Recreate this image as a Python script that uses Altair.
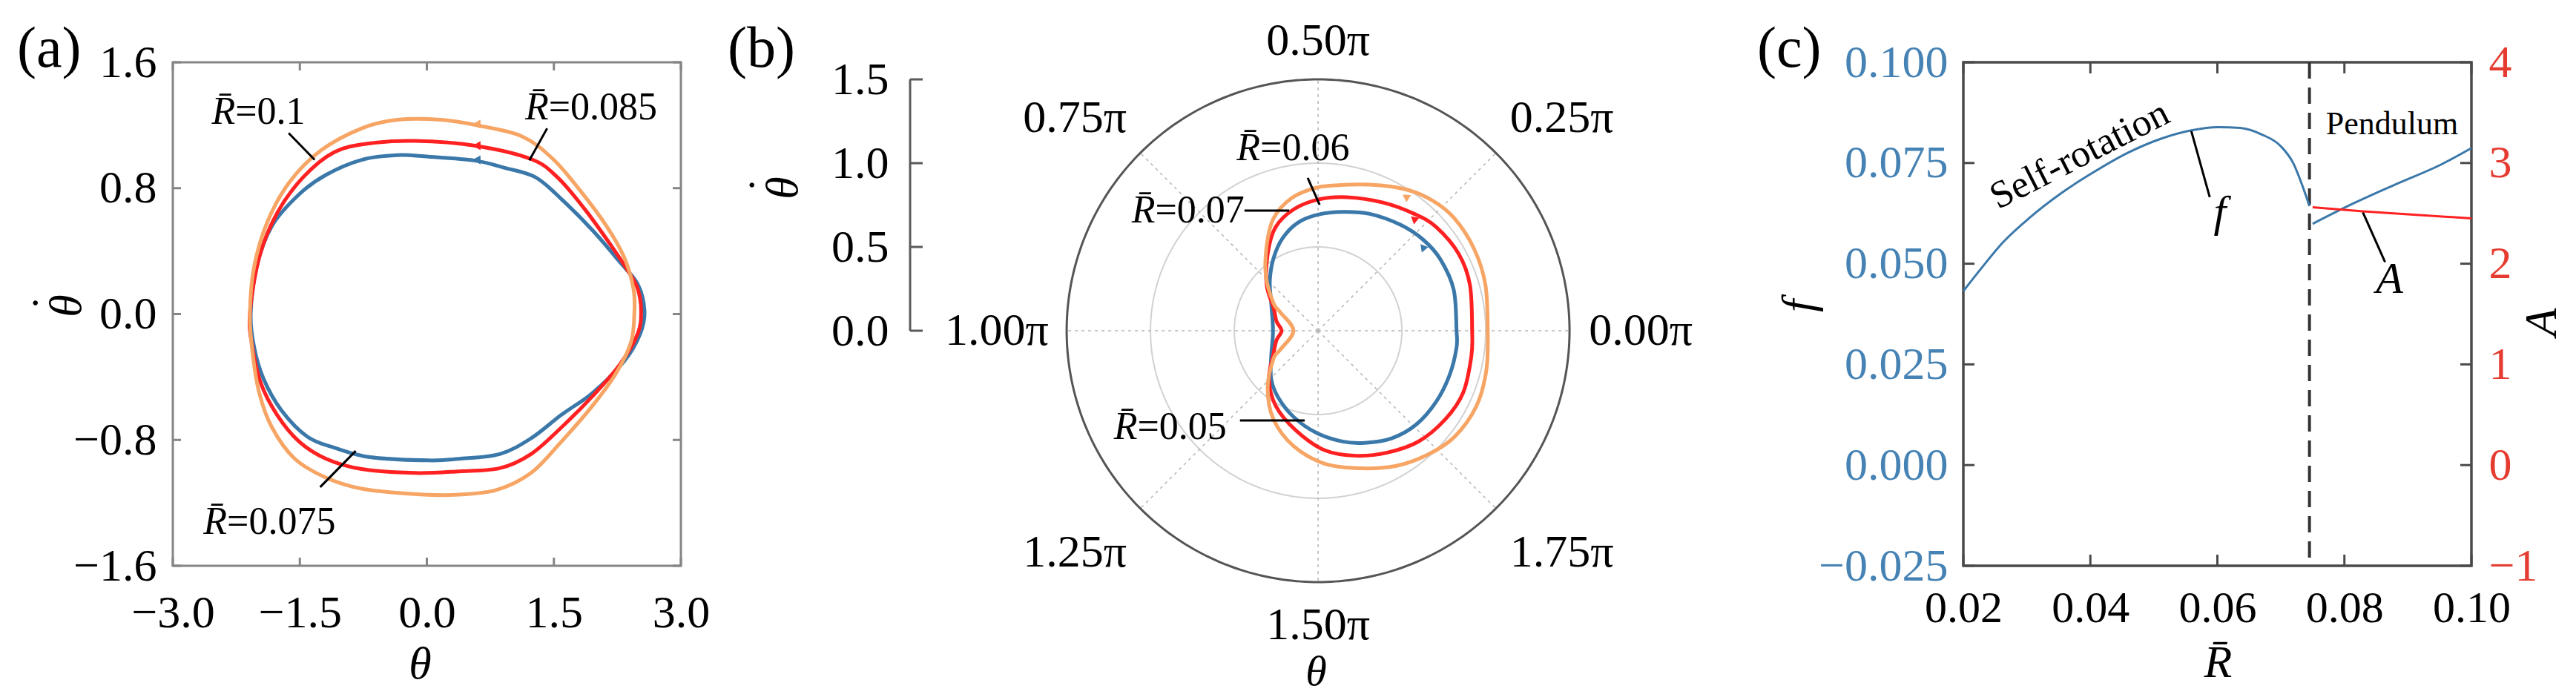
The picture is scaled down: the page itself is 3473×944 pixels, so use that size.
import altair as alt
import numpy as np
import pandas as pd

FONT = "Liberation Serif, Times New Roman, DejaVu Serif, serif"
BLUE = "#3b78aa"
RED = "#ff2121"
ORANGE = "#f7a564"
LBLUE = "#4683b4"
LRED = "#e53b30"
THETADOT = ["\u02d9", "θ"]  # dot drawn above the theta (title is rotated)

# ---------------- panel (a): phase portraits (theta, theta-dot)
a_series = ["0.075", "0.085", "0.1"]
a_blue_th = [-2.08, -2.01, -1.83, -1.51, -1.19, -0.77, -0.35, 0.02, 0.57, 0.91, 1.28, 1.59, 1.96, 2.28, 2.49,
             2.57, 2.52, 2.33, 1.96, 1.59, 1.23, 0.86, 0.38, 0.02, -0.67, -1.09, -1.41, -1.72, -1.93, -2.04]
a_blue_thd = [0.0, 0.30, 0.56, 0.76, 0.885, 0.98, 1.01, 1.0, 0.975, 0.93, 0.87, 0.73, 0.53, 0.33, 0.19,
              0.02, -0.125, -0.30, -0.50, -0.64, -0.79, -0.89, -0.92, -0.93, -0.91, -0.85, -0.78, -0.61, -0.41, -0.21]
a_red_th = [-2.09, -1.98, -1.77, -1.46, -1.09, -0.67, -0.14, 0.57, 1.23, 1.54, 1.86, 2.17, 2.38, 2.49, 2.53,
            2.49, 2.28, 1.96, 1.59, 1.23, 0.86, 0.38, -0.14, -0.77, -1.19, -1.51, -1.77, -1.96, -2.06]
a_red_thd = [0.0, 0.36, 0.64, 0.87, 1.03, 1.085, 1.10, 1.07, 0.985, 0.87, 0.67, 0.44, 0.27, 0.16, 0.02,
             -0.125, -0.32, -0.52, -0.72, -0.89, -0.98, -1.0, -1.01, -0.985, -0.92, -0.81, -0.64, -0.44, -0.21]
a_orange_th = [-2.09, -2.04, -1.88, -1.62, -1.25, -0.77, -0.35, 0.17, 0.59, 1.12, 1.49, 1.81, 2.12, 2.33, 2.44,
               2.45, 2.41, 2.23, 1.96, 1.59, 1.23, 0.81, 0.28, -0.25, -0.77, -1.19, -1.56, -1.83, -1.98, -2.06]
a_orange_thd = [0.0, 0.30, 0.59, 0.84, 1.04, 1.18, 1.235, 1.235, 1.20, 1.13, 0.985, 0.785, 0.56, 0.36, 0.16,
                0.0, -0.18, -0.38, -0.58, -0.81, -1.01, -1.12, -1.15, -1.14, -1.11, -1.04, -0.92, -0.72, -0.50, -0.24]
a_arrow_th = [0.587, 0.587, 0.587]
a_arrow_thd = [0.98, 1.07, 1.207]
a_lab_text = ["=0.075", "=0.085", "=0.1"]
a_lab_th = [-2.36, 1.439, -2.263]
a_lab_thd = [-1.321, 1.314, 1.285]
a_lead_th1 = [-1.26, 1.42, -1.632]
a_lead_thd1 = [-1.10, 1.18, 1.150]
a_lead_th2 = [-0.84, 1.21, -1.325]
a_lead_thd2 = [-0.87, 0.977, 0.980]
a_xticks = [-3.0, -1.5, 0.0, 1.5, 3.0]
a_yticks = [-1.6, -0.8, 0.0, 0.8, 1.6]

# ---------------- panel (b): polar portraits (angle in units of pi, radius = theta-dot)
b_series = ["0.05", "0.06", "0.07"]
b_blue_ang = [0, 0.093, 0.167, 0.226, 0.289, 0.368, 0.435, 0.5, 0.559, 0.617, 0.676, 0.744, 0.830, 1.0,
              1.161, 1.254, 1.326, 1.412, 1.493, 1.569, 1.626, 1.691, 1.757, 1.829, 1.898, 1.961]
b_blue_r = [0.826, 0.845, 0.845, 0.830, 0.801, 0.762, 0.724, 0.693, 0.656, 0.591, 0.507, 0.415, 0.325, 0.269,
            0.320, 0.401, 0.462, 0.535, 0.608, 0.677, 0.725, 0.778, 0.810, 0.822, 0.828, 0.832]
b_red_ang = [0, 0.093, 0.159, 0.229, 0.281, 0.351, 0.432, 0.5, 0.563, 0.624, 0.685, 0.769, 0.847, 0.928, 1.0,
             1.072, 1.155, 1.247, 1.336, 1.430, 1.518, 1.594, 1.664, 1.734, 1.807, 1.872, 1.947]
b_red_r = [0.919, 0.946, 0.956, 0.938, 0.903, 0.857, 0.815, 0.783, 0.739, 0.668, 0.548, 0.410, 0.300, 0.255, 0.218,
           0.255, 0.302, 0.411, 0.514, 0.609, 0.715, 0.780, 0.836, 0.892, 0.925, 0.941, 0.927]
b_orange_ang = [0, 0.085, 0.153, 0.220, 0.272, 0.324, 0.392, 0.456, 0.505, 0.563, 0.620, 0.672, 0.743, 0.823, 0.854,
                1.0, 1.149, 1.179, 1.270, 1.351, 1.433, 1.516, 1.595, 1.667, 1.730, 1.789, 1.859, 1.927]
b_orange_r = [1.012, 1.035, 1.051, 1.054, 1.033, 0.992, 0.924, 0.877, 0.853, 0.807, 0.722, 0.596, 0.450, 0.314, 0.253,
              0.147, 0.254, 0.315, 0.455, 0.591, 0.703, 0.795, 0.859, 0.932, 0.987, 1.031, 1.046, 1.031]
b_arrow_ang = [0.215, 0.275, 0.316]
b_arrow_r = [0.800, 0.879, 0.956]
b_arrow_rot = [231, 220, 213]
b_lab_text = ["=0.05", "=0.06", "=0.07"]
b_lab_x = [-1.078, -0.345, -0.972]
b_lab_y = [-0.575, 1.089, 0.717]
b_lead_x1 = [-0.466, -0.062, -0.439]
b_lead_y1 = [-0.535, 0.912, 0.717]
b_lead_x2 = [-0.080, 0.009, -0.172]
b_lead_y2 = [-0.535, 0.752, 0.717]
b_grid_r = [0.5, 1.0]
b_outer_r = 1.5
b_spoke_ang = [0, 0.25, 0.5, 0.75, 1.0, 1.25, 1.5, 1.75]
b_ang_labels = ["0.00π", "0.25π", "0.50π", "0.75π", "1.00π", "1.25π", "1.50π", "1.75π"]
b_ang_lab_x = [1.925, 1.454, 0.0, -1.451, -1.917, -1.451, 0.0, 1.454]
b_ang_lab_y = [0.0, 1.269, 1.730, 1.269, 0.0, -1.321, -1.755, -1.321]
b_rticks = [0.0, 0.5, 1.0, 1.5]

# ---------------- panel (c): f and A versus R
c_rot_R = [0.02, 0.0228, 0.0263, 0.0305, 0.0355, 0.0404, 0.046, 0.0509, 0.0559, 0.0601, 0.0636, 0.0671,
           0.0699, 0.072, 0.0734, 0.0745]
c_rot_f = [0.0432, 0.0488, 0.0554, 0.0615, 0.0676, 0.0726, 0.0776, 0.0809, 0.0831, 0.0839, 0.0837, 0.082,
           0.0793, 0.0748, 0.0693, 0.0643]
c_pen_R = [0.0750, 0.0812, 0.0882, 0.0952, 0.1000]
c_pen_f = [0.0599, 0.0648, 0.0698, 0.0746, 0.0787]
c_A_R = [0.0750, 0.0829, 0.0900, 0.1000]
c_A = [2.56, 2.52, 2.49, 2.45]
c_transition = 0.0745
c_xticks = [0.02, 0.04, 0.06, 0.08, 0.10]
c_fticks = [-0.025, 0.0, 0.025, 0.05, 0.075, 0.1]
c_Aticks = [-1, 0, 1, 2, 3, 4]

# ======================= build panel (a)
WA, HA, TA = 685, 679, 11
GA = "#858585"
sxa = alt.Scale(domain=[-3, 3], nice=False, zero=False)
sya = alt.Scale(domain=[-1.6, 1.6], nice=False, zero=False)
col_a = alt.Scale(domain=a_series, range=[BLUE, RED, ORANGE])
XA = alt.X("x:Q", scale=sxa, axis=alt.Axis(values=a_xticks, format=".1f", title="θ", labelPadding=33,
                                           titleX=333, titleY=132, titleAlign="center", titleBaseline="middle"))
YA = alt.Y("y:Q", scale=sya, axis=alt.Axis(values=a_yticks, format=".1f", title=THETADOT, labelPadding=22,
                                           titleX=-168, titleY=328, titleAngle=270, titleAlign="center",
                                           titleBaseline="middle", titleLineHeight=24))

df_a = pd.concat([
    pd.DataFrame({"x": a_blue_th, "y": a_blue_thd, "s": "0.075", "o": range(len(a_blue_th))}),
    pd.DataFrame({"x": a_red_th, "y": a_red_thd, "s": "0.085", "o": range(len(a_red_th))}),
    pd.DataFrame({"x": a_orange_th, "y": a_orange_thd, "s": "0.1", "o": range(len(a_orange_th))}),
])
a_lines = alt.Chart(df_a).mark_line(interpolate="cardinal-closed").encode(
    x=XA, y=YA,
    color=alt.Color("s:N", scale=col_a, legend=None),
    strokeWidth=alt.StrokeWidth("s:N", scale=alt.Scale(domain=a_series, range=[5, 5, 3.5]), legend=None),
    order=alt.Order("o:Q"),
)
a_arrows = alt.Chart(pd.DataFrame({"x": a_arrow_th, "y": a_arrow_thd, "s": a_series})).mark_point(
    shape="triangle-left", filled=True, size=150, opacity=1).encode(
    x=XA, y=YA, color=alt.Color("s:N", scale=col_a, legend=None))
df_alead = pd.DataFrame({"x": a_lead_th1, "y": a_lead_thd1, "x2": a_lead_th2, "y2": a_lead_thd2})
a_leads = alt.Chart(df_alead).mark_rule(color="black", strokeWidth=3).encode(x=XA, y=YA, x2="x2:Q", y2="y2:Q")
df_alab = pd.DataFrame({"x": a_lab_th, "y": a_lab_thd, "t": a_lab_text})
a_labR = alt.Chart(df_alab).mark_text(text="R\u0304", font=FONT, fontSize=52, fontStyle="italic",
                                      align="right", baseline="middle").encode(x=XA, y=YA)
a_labE = alt.Chart(df_alab).mark_text(font=FONT, fontSize=52, align="left", baseline="middle").encode(
    x=XA, y=YA, text="t:N")
df_ax = pd.DataFrame({"x": a_xticks})
df_ay = pd.DataFrame({"y": a_yticks})
a_tb = alt.Chart(df_ax).mark_rule(color=GA, strokeWidth=3).encode(x=XA, y=alt.value(HA), y2=alt.value(HA - TA))
a_tt = alt.Chart(df_ax).mark_rule(color=GA, strokeWidth=3).encode(x=XA, y=alt.value(0), y2=alt.value(TA))
a_tl = alt.Chart(df_ay).mark_rule(color=GA, strokeWidth=3).encode(y=YA, x=alt.value(0), x2=alt.value(TA))
a_tr = alt.Chart(df_ay).mark_rule(color=GA, strokeWidth=3).encode(y=YA, x=alt.value(WA), x2=alt.value(WA - TA))
a_letter = alt.Chart(pd.DataFrame({"t": ["(a)"]})).mark_text(
    font=FONT, fontSize=78, align="left", baseline="alphabetic").encode(
    text="t:N", x=alt.value(-210), y=alt.value(6))

pa = alt.layer(a_lines, a_arrows, a_leads, a_labR, a_labE, a_tb, a_tt, a_tl, a_tr, a_letter).properties(
    width=WA, height=HA, view=alt.ViewBackground(stroke=GA, strokeWidth=3))

# ======================= build panel (b)
WB, HB = 725, 724
sxb = alt.Scale(domain=[-1.580, 1.628], nice=False, zero=False)
syb = alt.Scale(domain=[-1.602, 1.602], nice=False, zero=False)
col_b = alt.Scale(domain=b_series, range=[BLUE, RED, ORANGE])
XB = alt.X("x:Q", scale=sxb, axis=alt.Axis(labels=False, title="θ", titleX=354, titleY=98, titleFontSize=58,
                                           titleAlign="center", titleBaseline="middle"))
YB = alt.Y("y:Q", scale=syb, axis=alt.Axis(values=b_rticks, format=".1f", offset=193, labelPadding=29,
                                           title=THETADOT, titleX=-196, titleY=169, titleAngle=270,
                                           titleAlign="center", titleBaseline="middle", titleLineHeight=24))


def polar_df(ang, r, name):
    a = np.array(ang) * np.pi
    rr = np.array(r)
    return pd.DataFrame({"x": rr * np.cos(a), "y": rr * np.sin(a), "s": name, "o": range(len(ang))})


phi = np.linspace(0, 2 * np.pi, 361)
df_grid = pd.concat([pd.DataFrame({"x": r * np.cos(phi), "y": r * np.sin(phi), "g": str(r), "o": range(len(phi))})
                     for r in b_grid_r])
df_outer = pd.DataFrame({"x": b_outer_r * np.cos(phi), "y": b_outer_r * np.sin(phi), "o": range(len(phi))})
b_gridc = alt.Chart(df_grid).mark_line(color="#d2d2d2", strokeWidth=2).encode(
    x=XB, y=YB, detail="g:N", order="o:Q")
b_outc = alt.Chart(df_outer).mark_line(color="#555555", strokeWidth=3).encode(x=XB, y=YB, order="o:Q")
sa = np.array(b_spoke_ang) * np.pi
df_spk = pd.DataFrame({"x": 0.0, "y": 0.0, "x2": b_outer_r * np.cos(sa), "y2": b_outer_r * np.sin(sa)})
b_spokes = alt.Chart(df_spk).mark_rule(color="#b5b5b5", strokeWidth=1.5, strokeDash=[4, 5]).encode(
    x=XB, y=YB, x2="x2:Q", y2="y2:Q")

df_b = pd.concat([polar_df(b_blue_ang, b_blue_r, "0.05"), polar_df(b_red_ang, b_red_r, "0.06"),
                  polar_df(b_orange_ang, b_orange_r, "0.07")])
b_lines = alt.Chart(df_b).mark_line(interpolate="cardinal-closed").encode(
    x=XB, y=YB,
    color=alt.Color("s:N", scale=col_b, legend=None),
    strokeWidth=alt.StrokeWidth("s:N", scale=alt.Scale(domain=b_series, range=[3.5, 4, 3]), legend=None),
    order=alt.Order("o:Q"),
)
df_barr = polar_df(b_arrow_ang, b_arrow_r, "x")
df_barr["s"] = b_series
df_barr["rot"] = b_arrow_rot
b_arrows = alt.Chart(df_barr).mark_point(shape="triangle-right", filled=True, size=130, opacity=1).encode(
    x=XB, y=YB, color=alt.Color("s:N", scale=col_b, legend=None), angle=alt.Angle("rot:Q", scale=None))
df_blead = pd.DataFrame({"x": b_lead_x1, "y": b_lead_y1, "x2": b_lead_x2, "y2": b_lead_y2})
b_leads = alt.Chart(df_blead).mark_rule(color="black", strokeWidth=3).encode(x=XB, y=YB, x2="x2:Q", y2="y2:Q")
df_blab = pd.DataFrame({"x": b_lab_x, "y": b_lab_y, "t": b_lab_text})
b_labR = alt.Chart(df_blab).mark_text(text="R\u0304", font=FONT, fontSize=52, fontStyle="italic",
                                      align="right", baseline="middle").encode(x=XB, y=YB)
b_labE = alt.Chart(df_blab).mark_text(font=FONT, fontSize=52, align="left", baseline="middle").encode(
    x=XB, y=YB, text="t:N")
df_bang = pd.DataFrame({"x": b_ang_lab_x, "y": b_ang_lab_y, "t": b_ang_labels})
b_angl = alt.Chart(df_bang).mark_text(font=FONT, fontSize=62, align="center", baseline="middle").encode(
    x=XB, y=YB, text="t:N")
# separate radial scale axis at the left
b_raxis = alt.Chart(pd.DataFrame({"y": [b_rticks[0]], "y2": [b_rticks[-1]]})).mark_rule(
    color="#5a5a5a", strokeWidth=3).encode(x=alt.value(-193), y=YB, y2="y2:Q")
b_rt = alt.Chart(pd.DataFrame({"y": b_rticks})).mark_rule(color="#5a5a5a", strokeWidth=3).encode(
    y=YB, x=alt.value(-193), x2=alt.value(-176))
b_letter = alt.Chart(pd.DataFrame({"t": ["(b)"]})).mark_text(
    font=FONT, fontSize=78, align="left", baseline="alphabetic").encode(
    text="t:N", x=alt.value(-439), y=alt.value(6))

pb = alt.layer(b_gridc, b_spokes, b_outc, b_lines, b_arrows, b_leads, b_labR, b_labE, b_angl, b_raxis, b_rt,
               b_letter).properties(width=WB, height=HB)

# ======================= build panel (c)
WC, HC, TC = 685, 679, 15
GC = "#4a4a4a"
sxc = alt.Scale(domain=[0.02, 0.10], nice=False, zero=False)
syf = alt.Scale(domain=[-0.025, 0.1], nice=False, zero=False)
syA = alt.Scale(domain=[-1, 4], nice=False, zero=False)
XC = alt.X("R:Q", scale=sxc, axis=alt.Axis(values=c_xticks, format=".2f", title="R\u0304", labelPadding=28,
                                           labelFontSize=60, titleX=343, titleY=130, titleAlign="center",
                                           titleBaseline="middle"))
YF = alt.Y("f:Q", scale=syf, axis=alt.Axis(orient="left", values=c_fticks, format=".3f", labelColor=LBLUE,
                                           labelPadding=21, title="f", titleX=-222, titleY=328, titleAngle=270,
                                           titleAlign="center", titleBaseline="middle"))

df_f = pd.concat([pd.DataFrame({"R": c_rot_R, "f": c_rot_f, "b": "rot"}),
                  pd.DataFrame({"R": c_pen_R, "f": c_pen_f, "b": "pen"})])
c_fline = alt.Chart(df_f).mark_line(color=BLUE, strokeWidth=3, interpolate="monotone").encode(
    x=XC, y=YF, detail="b:N")
c_dash = alt.Chart(pd.DataFrame({"R": [c_transition]})).mark_rule(
    color="#333333", strokeWidth=4, strokeDash=[22, 12]).encode(x=XC)
df_cx = pd.DataFrame({"R": c_xticks})
df_cy = pd.DataFrame({"f": c_fticks})
c_tb = alt.Chart(df_cx).mark_rule(color=GC, strokeWidth=3).encode(x=XC, y=alt.value(HC), y2=alt.value(HC - TC))
c_tt = alt.Chart(df_cx).mark_rule(color=GC, strokeWidth=3).encode(x=XC, y=alt.value(0), y2=alt.value(TC))
c_tl = alt.Chart(df_cy).mark_rule(color=GC, strokeWidth=3).encode(y=YF, x=alt.value(0), x2=alt.value(TC))
c_tr = alt.Chart(df_cy).mark_rule(color=GC, strokeWidth=3).encode(y=YF, x=alt.value(WC), x2=alt.value(WC - TC))
c_self = alt.Chart(pd.DataFrame({"R": [0.0383], "f": [0.0770], "t": ["Self-rotation"]})).mark_text(
    font=FONT, fontSize=52, angle=333, align="center", baseline="middle").encode(x=XC, y=YF, text="t:N")
c_pend = alt.Chart(pd.DataFrame({"R": [0.0875], "f": [0.0846], "t": ["Pendulum"]})).mark_text(
    font=FONT, fontSize=44, align="center", baseline="middle").encode(x=XC, y=YF, text="t:N")
c_sym = alt.Chart(pd.DataFrame({"R": [0.0604, 0.0871], "f": [0.0626, 0.0460], "t": ["f", "A"]})).mark_text(
    font=FONT, fontSize=60, fontStyle="italic", align="center", baseline="middle").encode(x=XC, y=YF, text="t:N")
c_leads = alt.Chart(pd.DataFrame({"R": [0.0559, 0.0829], "f": [0.0829, 0.0628],
                                  "R2": [0.0588, 0.0864], "f2": [0.0665, 0.0504]})).mark_rule(
    color="black", strokeWidth=3).encode(x=XC, y=YF, x2="R2:Q", y2="f2:Q")
c_letter = alt.Chart(pd.DataFrame({"t": ["(c)"]})).mark_text(
    font=FONT, fontSize=78, align="left", baseline="alphabetic").encode(
    text="t:N", x=alt.value(-278), y=alt.value(6))

c_left = alt.layer(c_dash, c_fline, c_tb, c_tt, c_tl, c_tr, c_self, c_pend, c_sym, c_leads, c_letter)
c_Aline = alt.Chart(pd.DataFrame({"R": c_A_R, "A": c_A})).mark_line(color=RED, strokeWidth=3).encode(
    x=XC,
    y=alt.Y("A:Q", scale=syA, axis=alt.Axis(orient="right", values=c_Aticks, format="d", labelColor=LRED,
                                            labelPadding=23, title="A", titleX=94, titleY=350, titleAngle=270,
                                            titleAlign="center", titleBaseline="middle")))
pc = alt.layer(c_left, c_Aline).resolve_scale(y="independent").properties(
    width=WC, height=HC, view=alt.ViewBackground(stroke=GC, strokeWidth=3.5))

chart = alt.hconcat(pa, pb, pc, spacing=502, bounds="flush").properties(
    padding={"left": 13, "top": 16, "right": 0, "bottom": 0}
).configure_view(stroke=None).configure_axis(
    grid=False, domain=False, ticks=False, tickSize=0, labelFlush=False, labelOverlap=False,
    labelFont=FONT, labelFontSize=62, labelColor="black",
    titleFont=FONT, titleFontSize=62, titleFontStyle="italic", titleFontWeight="normal", titleColor="black",
)

chart.save("out.html", embed_options={"renderer": "svg", "actions": False})
